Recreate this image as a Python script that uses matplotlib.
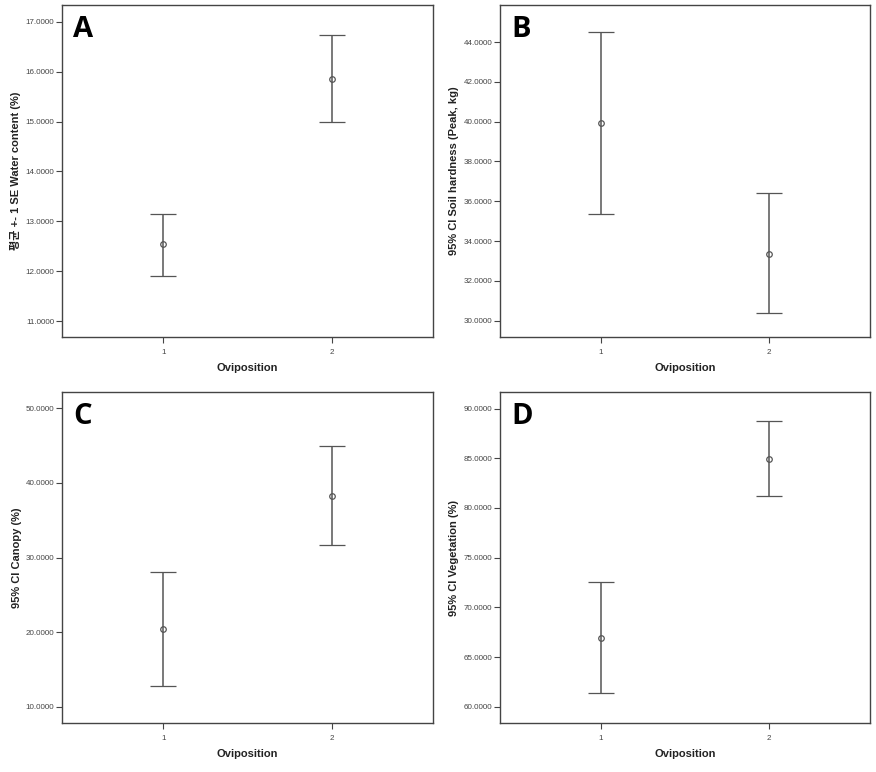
import matplotlib
matplotlib.use("Agg")
import matplotlib.pyplot as plt
import matplotlib.ticker as mticker

plt.rcParams['font.family'] = ['Liberation Sans', 'Noto Sans CJK KR', 'DejaVu Sans']

# Group labels (oviposition)
groups = [1, 2]

# Panel data: mean, lower, upper for each group
water_mean = [12.54, 15.86]
water_low = [11.91, 14.99]
water_high = [13.15, 16.73]

soil_mean = [39.93, 33.36]
soil_low = [35.36, 30.37]
soil_high = [44.49, 36.40]

canopy_mean = [20.42, 38.29]
canopy_low = [12.82, 31.64]
canopy_high = [28.06, 44.91]

veg_mean = [66.92, 84.93]
veg_low = [61.36, 81.21]
veg_high = [72.56, 88.75]

panels = [
    ("A", "평균 +- 1 SE Water content (%)", water_mean, water_low, water_high,
     (10.68, 17.34), 1.0),
    ("B", "95% CI Soil hardness (Peak, kg)", soil_mean, soil_low, soil_high,
     (29.18, 45.86), 2.0),
    ("C", "95% CI Canopy (%)", canopy_mean, canopy_low, canopy_high,
     (7.82, 52.2), 10.0),
    ("D", "95% CI Vegetation (%)", veg_mean, veg_low, veg_high,
     (58.36, 91.67), 5.0),
]

W, H = 876, 772
fig = plt.figure(figsize=(W / 100, H / 100), dpi=100)

# axes boxes in pixel coords: left, top, right, bottom
boxes = [
    (62, 5, 433, 337),
    (500, 5, 870, 337),
    (62, 392, 433, 723),
    (500, 392, 870, 723),
]

frame_col = "#444444"
bar_col = "#555555"

for (letter, ylabel, mean, low, high, ylim, step), (l, t, r, b) in zip(panels, boxes):
    ax = fig.add_axes([l / W, 1 - b / H, (r - l) / W, (b - t) / H])
    yerr = [[m - lo for m, lo in zip(mean, low)], [hi - m for m, hi in zip(mean, high)]]
    ax.errorbar(groups, mean, yerr=yerr, fmt='o', color=bar_col, ecolor=bar_col,
                elinewidth=1.1, capsize=9.5, capthick=1.1,
                markersize=4, markerfacecolor='none', markeredgewidth=0.9)
    ax.set_xlim(0.4, 2.6)
    ax.set_ylim(*ylim)
    ax.set_xticks(groups)
    ax.set_xticklabels([str(g) for g in groups])
    ax.yaxis.set_major_locator(mticker.MultipleLocator(step))
    ax.yaxis.set_major_formatter(mticker.FormatStrFormatter('%.4f'))
    ax.tick_params(axis='both', labelsize=5.8, colors=frame_col, length=4, width=0.8, pad=1.5)
    ax.tick_params(axis='x', pad=5)
    for sp in ax.spines.values():
        sp.set_color(frame_col)
        sp.set_linewidth(1.0)
    ax.set_xlabel("Oviposition", fontsize=8, fontweight='bold', color="#222222", labelpad=5)
    ax.set_ylabel(ylabel, fontsize=8, fontweight='bold', color="#222222", labelpad=3)
    ax.text(0.03, 0.97, letter, transform=ax.transAxes, fontsize=21, fontweight='bold',
            family=['Open Sans', 'DejaVu Sans'], va='top', ha='left', color='black')

fig.savefig("out.png", dpi=100, facecolor='white')
